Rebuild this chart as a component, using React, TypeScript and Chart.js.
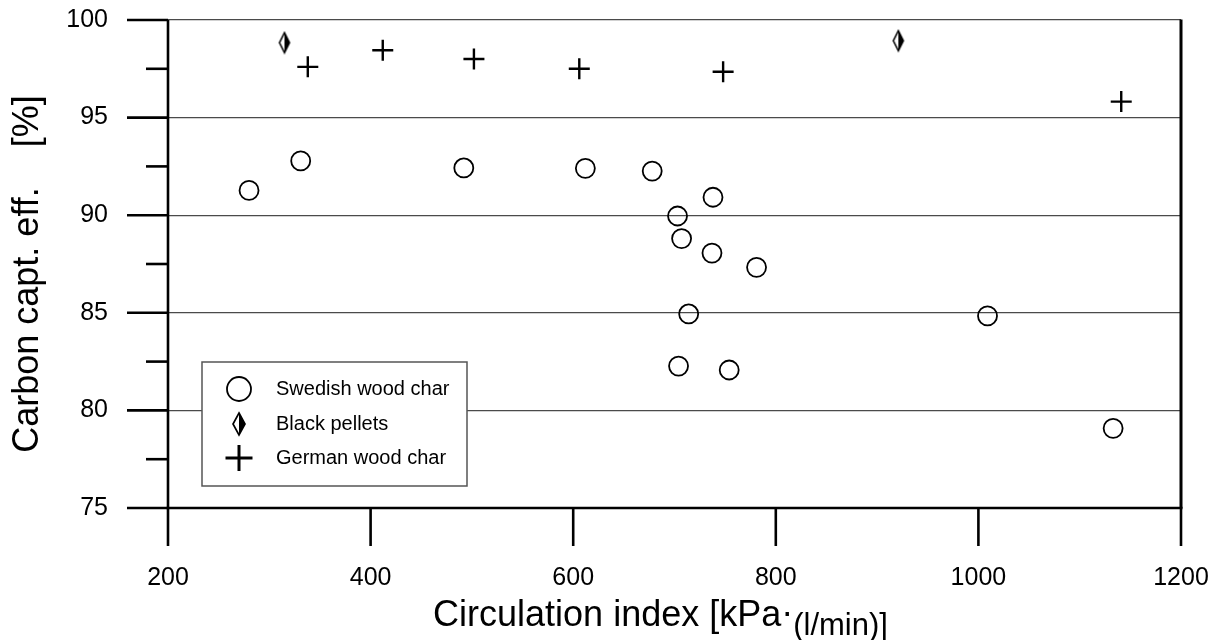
import React, { useEffect, useRef } from "react";
import { Chart, registerables } from "chart.js";

Chart.register(...registerables);

// Circulation index [kPa·(l/min)] and carbon capture efficiency [%] per fuel
const swedishX = [280, 331, 492, 612, 678, 738, 703, 707, 737, 781, 714, 704, 754, 1009, 1133];
const swedishY = [91.27, 92.78, 92.42, 92.4, 92.26, 90.92, 89.96, 88.8, 88.06, 87.33, 84.94, 82.27, 82.07, 84.84, 79.08];
const pelletX = [315, 921];
const pelletY = [98.84, 98.94];
const germanX = [338, 412, 502, 606, 748, 1141];
const germanY = [97.6, 98.45, 98.0, 97.5, 97.35, 95.82];

const seriesLabels = ["Swedish wood char", "Black pellets", "German wood char"];
const xRange = [200, 1200];
const xStep = 200;
const yRange = [75, 100];
const yStep = 5;
const yMinorStep = 2.5;

const yTitle = "Carbon capt. eff.    [%]";
const xTitleMain = "Circulation index [kPa";
const xTitleDot = "·";
const xTitleSub = "(l/min)]";

const FONT = "'Liberation Sans', Arial, Helvetica, sans-serif";

const toPoints = (xs: number[], ys: number[]) => xs.map((x, i) => ({ x, y: ys[i] }));

// Diamond marker: outlined, right half filled
function makeDiamond(w: number, h: number, lw: number): HTMLCanvasElement {
  const c = document.createElement("canvas");
  c.width = w + 4;
  c.height = h + 4;
  const g = c.getContext("2d")!;
  const cx = c.width / 2;
  const cy = c.height / 2;
  const outline = () => {
    g.beginPath();
    g.moveTo(cx, cy - h / 2);
    g.lineTo(cx + w / 2, cy);
    g.lineTo(cx, cy + h / 2);
    g.lineTo(cx - w / 2, cy);
    g.closePath();
  };
  g.fillStyle = "#fff";
  outline();
  g.fill();
  g.fillStyle = "#000";
  g.beginPath();
  g.moveTo(cx, cy - h / 2);
  g.lineTo(cx + w / 2, cy);
  g.lineTo(cx, cy + h / 2);
  g.closePath();
  g.fill();
  g.strokeStyle = "#000";
  g.lineWidth = lw;
  outline();
  g.stroke();
  return c;
}

// Keep the plot area fixed: no extra scale padding for edge labels
const noScalePadding = (s: any) => {
  s.paddingLeft = 0;
  s.paddingRight = 0;
  s.paddingTop = 0;
  s.paddingBottom = 0;
};

export default function App() {
  const canvasRef = useRef<HTMLCanvasElement | null>(null);

  useEffect(() => {
    const canvas = canvasRef.current;
    if (!canvas) return;

    const diamond = makeDiamond(10, 20, 1.6);
    const legendDiamond = makeDiamond(12, 22, 1.7);

    // Axis lines, tick marks, legend box and axis titles
    const framePlugin = {
      id: "frame",
      afterDatasetsDraw(chart: any) {
        const { ctx, chartArea: a, scales } = chart;
        const xs = scales.x;
        const ys = scales.y;
        const seg = (x1: number, y1: number, x2: number, y2: number, lw: number, color = "#000") => {
          ctx.lineWidth = lw;
          ctx.strokeStyle = color;
          ctx.beginPath();
          ctx.moveTo(x1, y1);
          ctx.lineTo(x2, y2);
          ctx.stroke();
        };
        ctx.save();
        ctx.lineCap = "butt";

        // y tick marks (major every 5, minor every 2.5)
        for (let v = yRange[0]; v <= yRange[1] + 1e-9; v += yMinorStep) {
          const py = ys.getPixelForValue(v);
          const major = Math.abs(v / yStep - Math.round(v / yStep)) < 1e-6;
          seg(a.left - (major ? 41 : 22), py, a.left, py, 2.6);
        }
        // x tick marks
        xs.ticks.forEach((t: any) => {
          const px = xs.getPixelForValue(t.value);
          seg(px, a.bottom, px, a.bottom + 38, 2.6);
        });
        // left axis, bottom axis, right border
        seg(a.left, a.top, a.left, a.bottom, 2.6);
        seg(a.left - 1.3, a.bottom, a.right + 1.5, a.bottom, 2.6);
        seg(a.right, a.top - 0.5, a.right, a.bottom, 3);

        // legend
        const lx = a.left + 34;
        const ly = a.top + 342;
        const lw = 265;
        const lh = 124;
        ctx.fillStyle = "#fff";
        ctx.fillRect(lx, ly, lw, lh);
        ctx.lineWidth = 1.5;
        ctx.strokeStyle = "#555";
        ctx.strokeRect(lx, ly, lw, lh);
        const symX = lx + 37;
        const textX = lx + 74;
        const rows = [ly + 27, ly + 62, ly + 96];
        const labels = chart.data.datasets.map((d: any) => d.label);
        ctx.strokeStyle = "#000";
        ctx.lineWidth = 1.8;
        ctx.beginPath();
        ctx.arc(symX, rows[0], 12, 0, Math.PI * 2);
        ctx.stroke();
        ctx.drawImage(legendDiamond, symX - legendDiamond.width / 2, rows[1] - legendDiamond.height / 2);
        seg(symX - 13.5, rows[2], symX + 13.5, rows[2], 3);
        seg(symX, rows[2] - 13, symX, rows[2] + 13, 3);
        ctx.fillStyle = "#000";
        ctx.font = `20px ${FONT}`;
        ctx.textAlign = "left";
        ctx.textBaseline = "middle";
        labels.forEach((lab: string, i: number) => ctx.fillText(lab, textX, rows[i]));

        // y-axis title
        ctx.save();
        ctx.translate(38, (a.top + a.bottom) / 2 + 10);
        ctx.rotate(-Math.PI / 2);
        ctx.font = `36px ${FONT}`;
        ctx.textAlign = "center";
        ctx.textBaseline = "alphabetic";
        ctx.fillText(yTitle, 0, 0);
        ctx.restore();

        // x-axis title with lowered unit part
        const mainFont = `36px ${FONT}`;
        const subFont = `31px ${FONT}`;
        ctx.font = mainFont;
        const wMain = ctx.measureText(xTitleMain).width;
        const wDot = ctx.measureText(xTitleDot).width;
        ctx.font = subFont;
        const wSub = ctx.measureText(xTitleSub).width;
        const total = wMain + wDot + wSub;
        let tx = (a.left + a.right) / 2 - 14 - total / 2;
        const base = 626;
        ctx.textAlign = "left";
        ctx.textBaseline = "alphabetic";
        ctx.font = mainFont;
        ctx.fillText(xTitleMain, tx, base);
        tx += wMain;
        ctx.fillText(xTitleDot, tx, base - 2);
        tx += wDot;
        ctx.font = subFont;
        ctx.fillText(xTitleSub, tx, base + 9);

        ctx.restore();
      },
    };

    const chart = new Chart(canvas, {
      type: "scatter",
      data: {
        datasets: [
          {
            label: seriesLabels[0],
            data: toPoints(swedishX, swedishY),
            pointStyle: "circle",
            pointRadius: 9.5,
            pointBorderWidth: 1.8,
            borderColor: "#000",
            backgroundColor: "rgba(0,0,0,0)",
          },
          {
            label: seriesLabels[1],
            data: toPoints(pelletX, pelletY),
            pointStyle: diamond as any,
            pointRadius: 10,
            borderColor: "#000",
            backgroundColor: "#000",
          },
          {
            label: seriesLabels[2],
            data: toPoints(germanX, germanY),
            pointStyle: "cross",
            pointRadius: 10.5,
            pointBorderWidth: 2.4,
            borderColor: "#000",
            backgroundColor: "#000",
          },
        ],
      },
      options: {
        responsive: false,
        animation: false,
        devicePixelRatio: 1,
        layout: { padding: { top: 20, right: 41, left: 0, bottom: 0 } },
        plugins: {
          legend: { display: false },
          tooltip: { enabled: false },
        },
        scales: {
          x: {
            type: "linear",
            min: xRange[0],
            max: xRange[1],
            afterFit: (s: any) => {
              s.height = 132;
              noScalePadding(s);
            },
            ticks: {
              stepSize: xStep,
              autoSkip: false,
              maxRotation: 0,
              padding: 55,
              color: "#000",
              font: { family: FONT, size: 25 },
              callback: (v: any) => String(v),
            },
            grid: { display: false, drawTicks: false },
            border: { display: false },
          },
          y: {
            type: "linear",
            min: yRange[0],
            max: yRange[1],
            afterFit: (s: any) => {
              s.width = 168;
              noScalePadding(s);
            },
            ticks: {
              stepSize: yStep,
              padding: 60,
              color: "#000",
              font: { family: FONT, size: 25 },
              callback: (v: any) => String(v),
            },
            grid: {
              drawTicks: false,
              color: (c: any) => (c.tick && c.tick.value === yRange[0] ? "rgba(0,0,0,0)" : "#4a4a4a"),
              lineWidth: 1.2,
            },
            border: { display: false },
          },
        },
      },
      plugins: [framePlugin],
    });

    return () => chart.destroy();
  }, []);

  return (
    <div style={{ position: "fixed", left: 0, top: 0, width: 1222, height: 640, background: "#fff" }}>
      <canvas ref={canvasRef} width={1222} height={640} />
    </div>
  );
}
